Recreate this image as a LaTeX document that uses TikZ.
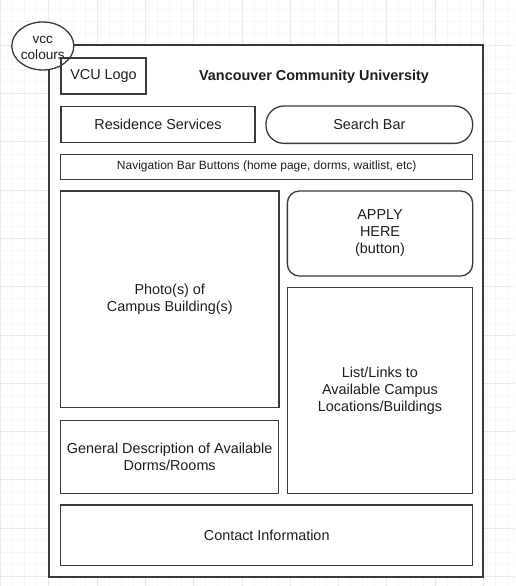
\documentclass[tikz,border=0pt]{standalone}
\usepackage{fontspec}
\setmainfont{Liberation Sans}
\usetikzlibrary{shapes.geometric}
\definecolor{gridminor}{HTML}{F6F6F6}
\definecolor{gridmajor}{HTML}{EAEAEA}
\definecolor{linegray}{HTML}{3A3A3A}
\definecolor{textgray}{HTML}{1E1E1E}
\tikzset{
  box/.style={draw=linegray,line width=1.3pt,rectangle,inner sep=0pt,align=center,
    text=textgray,font=\fontsize{14.4}{17}\selectfont},
  pill/.style={box,rounded corners=18pt},
  buttonbox/.style={box,rounded corners=12pt},
}
\begin{document}
\begin{tikzpicture}[x=1pt,y=-1pt]
    \useasboundingbox (0,0) rectangle (515,586);
    \fill[white] (0,0) rectangle (515,586);
    \foreach \i in {0,...,42} {
      \draw[gridminor,line width=0.8pt] (0.5+12.07*\i,0) -- ++(0,586);
    }
    \foreach \j in {0,...,48} {
      \draw[gridminor,line width=0.8pt] (0,-2.97+12.07*\j) -- ++(515,0);
    }
    \foreach \i in {0,...,10} {
      \draw[gridmajor,line width=0.8pt] (0.5+48.28*\i,0) -- ++(0,586);
    }
    \foreach \j in {0,...,12} {
      \draw[gridmajor,line width=0.8pt] (0,-2.97+48.28*\j) -- ++(515,0);
    }
    \node[box,draw=linegray,fill=white,line width=2pt,minimum width=434pt,minimum height=532pt] (page) at (266,311) {};
    \node[box,ellipse,fill=white,minimum width=61pt,minimum height=48pt,font=\fontsize{13.6}{16}\selectfont] (vcc) at (42.8,46) {\strut vcc\\colours};
    \node[box,minimum width=85pt,minimum height=36pt] (logo) at (103.5,76) {VCU Logo};
    \node[text=textgray,font=\fontsize{14.4}{17}\selectfont\bfseries] (title) at (314,77) {Vancouver Community University};
    \node[box,minimum width=194pt,minimum height=36.5pt] (residence) at (158,124.5) {Residence Services};
    \node[pill,minimum width=206.7pt,minimum height=37.3pt] (search) at (369.3,124.7) {Search Bar};
    \node[box,minimum width=411.9pt,minimum height=25pt,font=\fontsize{12}{14}\selectfont] (navbar) at (266.7,166.8) {Navigation Bar Buttons (home page, dorms, waitlist, etc)};
    \node[box,minimum width=218.3pt,minimum height=216.7pt] (photo) at (169.8,299.3) {Photo(s) of\\Campus Building(s)};
    \node[buttonbox,minimum width=185.3pt,minimum height=85pt] (apply) at (380,233.5) {APPLY\\HERE\\(button)};
    \node[box,minimum width=185.3pt,minimum height=206pt] (links) at (380,390.3) {List/Links to\\Available Campus\\Locations/Buildings};
    \node[box,minimum width=218pt,minimum height=72.6pt] (desc) at (169.7,457) {General Description of Available\\Dorms/Rooms};
    \node[box,minimum width=412pt,minimum height=60.7pt] (contact) at (266.7,535.3) {Contact Information};
  \end{tikzpicture}
\end{document}
